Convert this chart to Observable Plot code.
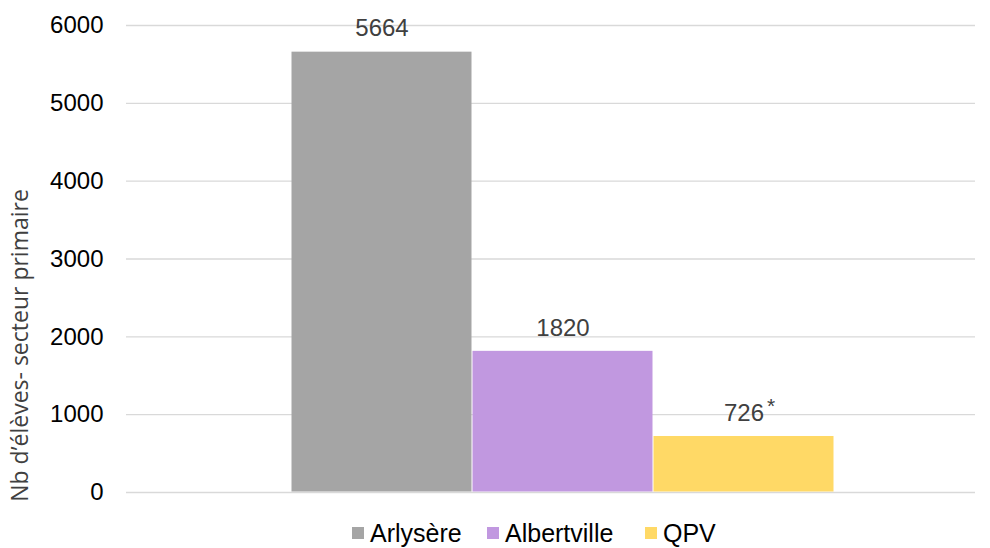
<!DOCTYPE html>
<html><head><meta charset="utf-8">
<script src="https://cdn.jsdelivr.net/npm/d3@7"></script>
<script src="https://cdn.jsdelivr.net/npm/@observablehq/plot@0.6"></script>
<style>
body{margin:0;background:#fff;font-family:"Liberation Sans",Arial,sans-serif;}
#legend{position:relative;height:38px;font-size:25px;color:#000;}
.item{position:absolute;top:9px;display:flex;align-items:center;line-height:28px;}
.sw{width:12px;height:12px;margin-right:6px;}
</style></head>
<body><div id="chart"></div><div id="legend"></div>
<script>
const categories = ["Arlysère", "Albertville", "QPV"];
const values = [5664, 1820, 726];
const notes = ["", "", "*"];
const colors = ["#A5A5A5", "#C198E0", "#FFD966"];
const yTicks = [0, 1000, 2000, 3000, 4000, 5000, 6000];
const yLabel = "Nb d’élèves- secteur primaire";

const data = categories.map((c, i) => ({cat: c, v: values[i], note: notes[i]}));
const W = 990, H = 510;
const chart = Plot.plot({
  width: W, height: H,
  marginTop: 25, marginBottom: 18, marginLeft: 126, marginRight: 15,
  style: {fontFamily: '"Liberation Sans", Arial, sans-serif', background: "#fff"},
  x: {domain: categories, range: [291, 834], padding: 0, axis: null},
  y: {domain: [0, 6000], axis: null},
  color: {domain: categories, range: colors},
  marks: [
    Plot.ruleY(yTicks, {stroke: "#D9D9D9", strokeWidth: 1.3}),
    Plot.barY(data, {x: "cat", y: "v", fill: "cat", inset: 0.5}),
    Plot.text(data, {x: "cat", y: "v", text: d => String(d.v), dy: -23, fontSize: 24, fill: "#404040"}),
    Plot.text(data, {x: "cat", y: "v", text: "note", dy: -30, dx: 27, fontSize: 21, fill: "#404040"}),
    Plot.axisY(yTicks, {tickSize: 0, tickPadding: 23, fontSize: 24, fill: "#000", label: null, tickFormat: d => String(d)}),
    Plot.text([yLabel], {frameAnchor: "left", textAnchor: "middle", y: 1889, dx: -106, rotate: -90, text: d => d, fontSize: 23, fontFamily: '"Open Sans", sans-serif', fill: "#404040"})
  ]
});
document.getElementById("chart").appendChild(chart);

const legendX = [352, 487, 645];
const leg = document.getElementById("legend");
categories.forEach((c, i) => {
  const it = document.createElement("div");
  it.className = "item";
  it.style.left = legendX[i] + "px";
  const sw = document.createElement("span");
  sw.className = "sw";
  sw.style.background = colors[i];
  const t = document.createElement("span");
  t.textContent = c;
  it.appendChild(sw); it.appendChild(t);
  leg.appendChild(it);
});
</script>
</body></html>
